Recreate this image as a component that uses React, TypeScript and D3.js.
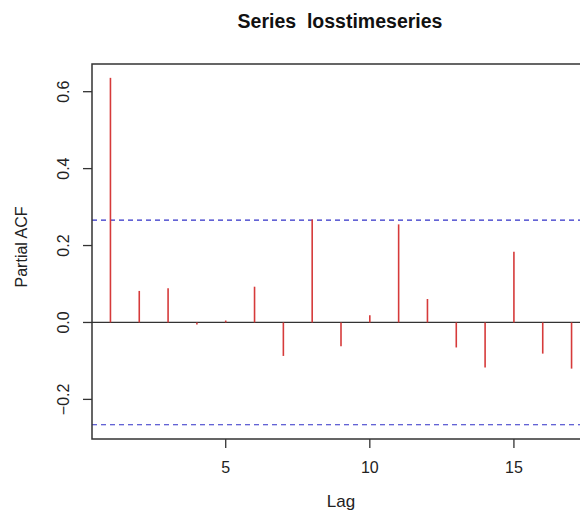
import React from 'react';
import * as d3 from 'd3';

// partial autocorrelations
const lags = [1, 2, 3, 4, 5, 6, 7, 8, 9, 10, 11, 12, 13, 14, 15, 16, 17];
const pacf = [0.636, 0.082, 0.089, -0.005, 0.005, 0.093, -0.087, 0.268, -0.062, 0.019, 0.255, 0.061, -0.065, -0.117, 0.184, -0.081, -0.12];
const ci = [0.266, -0.266];
const xTicks = [5, 10, 15];
const yTicks = [-0.2, 0.0, 0.2, 0.4, 0.6];

const W = 580;
const H = 511;
const left = 92, right = 590, top = 64, bottom = 439;
const font = '"Liberation Sans", Arial, Helvetica, sans-serif';

const App: React.FC = () => {
  const x = d3.scaleLinear().domain([0.36, 17.64]).range([left, right]);
  const y = d3.scaleLinear().domain([-0.303, 0.672]).range([bottom, top]);

  return (
    <svg width={W} height={H} style={{ position: 'absolute', left: 0, top: 0, background: '#fff' }}>
      <text x={340} y={28} textAnchor="middle" fontFamily={font} fontWeight="bold" fontSize={19.5} fill="#111">
        {'Series\u00a0\u00a0losstimeseries'}
      </text>

      {/* confidence bounds */}
      {ci.map((c, i) => (
        <line key={'ci' + i} x1={left} x2={right} y1={y(c)} y2={y(c)} stroke="#3030c8" strokeWidth={1.2} strokeDasharray="5,4" />
      ))}

      {/* zero line */}
      <line x1={left} x2={right} y1={y(0)} y2={y(0)} stroke="#333" strokeWidth={1.3} />

      {/* stems */}
      {lags.map((l, i) => (
        <line key={'s' + l} x1={x(l)} x2={x(l)} y1={y(0)} y2={y(pacf[i])} stroke="#d63a3a" strokeWidth={1.6} />
      ))}

      {/* frame */}
      <rect x={left} y={top} width={right - left} height={bottom - top} fill="none" stroke="#333" strokeWidth={1.5} />

      {/* x axis */}
      {xTicks.map(t => (
        <g key={'xt' + t}>
          <line x1={x(t)} x2={x(t)} y1={bottom} y2={bottom + 9} stroke="#333" strokeWidth={1.3} />
          <text x={x(t)} y={473} textAnchor="middle" fontFamily={font} fontSize={16} fill="#222">{t}</text>
        </g>
      ))}
      <text x={341} y={507} textAnchor="middle" fontFamily={font} fontSize={17} fill="#222">Lag</text>

      {/* y axis */}
      {yTicks.map(t => (
        <g key={'yt' + t}>
          <line x1={left - 9} x2={left} y1={y(t)} y2={y(t)} stroke="#333" strokeWidth={1.3} />
          <text transform={`translate(69,${y(t)}) rotate(-90)`} textAnchor="middle" fontFamily={font} fontSize={16} fill="#222">
            {t < 0 ? '\u2212' + Math.abs(t).toFixed(1) : t.toFixed(1)}
          </text>
        </g>
      ))}
      <text transform={`translate(27,247) rotate(-90)`} textAnchor="middle" fontFamily={font} fontSize={16} fill="#222">Partial ACF</text>
    </svg>
  );
};

export default App;
